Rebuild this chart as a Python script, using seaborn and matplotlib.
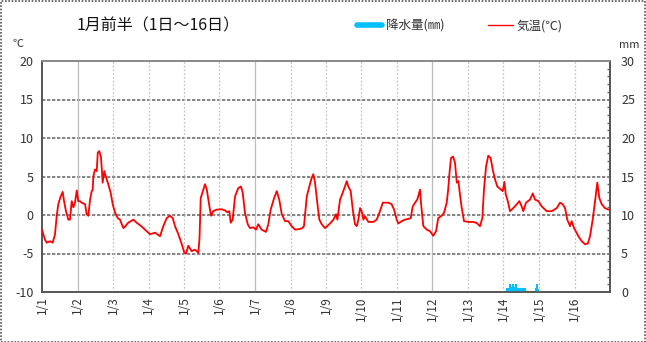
import matplotlib
matplotlib.use("Agg")
import matplotlib.pyplot as plt
import seaborn as sns
import pandas as pd
from matplotlib.lines import Line2D
from matplotlib.patches import Rectangle

# ---------------- data ----------------
title = "1月前半（1日～16日）"
day_labels = ["1/1", "1/2", "1/3", "1/4", "1/5", "1/6", "1/7", "1/8",
              "1/9", "1/10", "1/11", "1/12", "1/13", "1/14", "1/15", "1/16"]

# hours since 1/1 00:00 and air temperature (°C)
temp_hours = [0, 2.0, 3.2, 5.4, 7.2, 8.8, 9.9, 11.0, 12.6, 14.0, 14.9, 16.2, 17.8, 18.9,
              20.1, 21.2, 22.3, 23.5, 24.5, 25.7, 26.8, 27.9, 29.1, 30.2, 31.3, 32.5,
              33.6, 34.3, 34.7, 35.8, 37.0, 37.7, 38.7, 39.9, 40.6, 41.0, 42.1, 43.3,
              44.8, 46.4, 47.8, 49.4, 51.2, 52.7, 55.0, 56.1, 58.3, 61.7, 64.0, 67.4,
              70.8, 73.0, 76.4, 79.8, 82.0, 84.3, 86.5, 88.4, 89.9, 92.2, 94.5, 96.2,
              97.4, 98.9, 101.2, 103.4, 105.7, 106.5, 107.3, 109.1, 110.2, 111.4, 113.2,
              114.3, 115.8, 118.1, 121.5, 123.7, 125.3, 126.6, 127.6, 128.9, 130.5,
              132.7, 134.5, 135.7, 137.2, 139.1, 140.6, 142.9, 144.7, 146.2, 148.5,
              151.4, 153.0, 154.6, 156.9, 158.7, 160.4, 162.1, 164.3, 166.5, 168.8,
              171.1, 173.3, 175.6, 177.1, 179.0, 180.7, 182.3, 183.4, 184.6, 186.1,
              187.5, 189.1, 191.3, 192.5, 194.7, 197.0, 198.8, 199.7, 201.5, 203.3,
              204.8, 206.0, 207.1, 208.7, 210.1, 211.6, 212.8, 213.9, 215.0, 216.1,
              217.3, 218.4, 220.6, 224.0, 226.3, 228.5, 230.4, 231.9, 234.1, 236.4,
              238.0, 239.8, 240.9, 243.2, 245.4, 247.7, 249.3, 250.6, 252.2, 253.7,
              255.6, 256.2, 257.8, 260.1, 262.3, 264.5, 266.4, 267.9, 270.2, 271.8,
              273.6, 274.6, 275.5, 276.5, 277.9, 279.2, 280.4, 281.5, 282.6, 283.7,
              285.3, 288.2, 291.6, 293.9, 296.1, 297.7, 298.8, 300.2, 301.7, 303.3,
              304.7, 306.3, 307.8, 309.6, 311.5, 312.6, 313.5, 314.9, 316.4, 318.6,
              321.0, 322.7, 324.3, 325.4, 327.2, 329.9, 331.8, 333.3, 335.6, 337.9,
              341.2, 344.6, 348.0, 350.2, 352.0, 353.6, 355.1, 357.0, 358.1, 359.7,
              362.6, 364.9, 367.1, 369.0, 370.5, 372.3, 373.9, 375.4, 376.8, 378.4,
              380.6, 382.9, 384.0]
temp_values = [-1.9, -3.2, -3.6, -3.4, -3.6, -2.5, -0.2, 1.4, 2.4, 3.0, 1.8, 0.5, -0.6, -0.6,
               1.8, 1.0, 1.6, 3.2, 1.8, 1.8, 1.6, 1.5, 1.4, 0.1, -0.1, 2.0,
               3.1, 3.3, 5.0, 5.9, 5.7, 8.1, 8.3, 7.5, 5.5, 4.2, 5.7, 4.9,
               4.0, 2.9, 1.4, 0.3, -0.4, -0.6, -1.7, -1.5, -1.0, -0.6, -1.0, -1.5,
               -2.1, -2.5, -2.3, -2.75, -1.45, -0.4, -0.1, -0.4, -1.45, -2.5, -3.8, -4.9,
               -5.0, -4.0, -4.7, -4.5, -4.9, -3.0, 2.2, 3.3, 4.0, 3.3, 1.1,
               -0.1, 0.5, 0.7, 0.75, 0.6, 0.35, 0.5, -1.0, -0.6, 2.4,
               3.5, 3.7, 2.9, 0.3, -1.2, -1.7, -1.6, -1.9, -1.2, -1.9,
               -2.2, -1.2, 0.7, 2.2, 3.1, 2.0, 0.1, -0.8, -0.8, -1.45,
               -1.9, -1.85, -1.75, -1.45, 2.4, 3.7, 4.8, 5.3, 4.2, 1.6,
               -0.6, -1.2, -1.7, -1.5, -1.1, -0.6, 0.1, -0.6, 2.0, 2.9,
               3.7, 4.4, 3.7, 3.1, 0.7, -1.2, -1.45, -0.6, 0.9, 0.5,
               -0.6, -0.15, -0.9, -0.9, -0.6, 0.5, 1.6, 1.6, 1.6, 1.4,
               0.7, -0.6, -1.1, -0.8, -0.6, -0.5, -0.4, 1.1, 1.6, 2.0,
               3.3, 1.6, -1.45, -1.9, -2.1, -2.7, -2.1, -0.4, -0.1, 0.3,
               1.6, 3.3, 5.5, 7.4, 7.6, 6.8, 4.2, 4.4, 2.6, 1.0,
               -0.8, -0.9, -0.9, -1.05, -1.45, -0.4, 3.3, 6.3, 7.7, 7.4,
               5.9, 4.6, 3.7, 3.4, 3.1, 4.3, 2.7, 1.8, 0.5, 0.9,
               1.4, 1.8, 1.1, 0.5, 1.6, 2.0, 2.8, 2.0, 1.8, 1.1,
               0.5, 0.5, 0.9, 1.6, 1.4, 0.9, -0.6, -1.45, -0.8, -1.7,
               -2.75, -3.4, -3.8, -3.7, -2.75, -0.6, 1.8, 4.2, 2.2, 1.4,
               0.9, 0.7, 0.7]

# precipitation (mm) per hour
rain_hours = [314, 315, 316, 317, 318, 319, 320, 321, 322, 323, 324, 325, 326,
              333, 334, 335]
rain_values = [0.5, 0.5, 1.0, 0.7, 1.0, 0.7, 1.0, 0.5, 0.5, 0.5, 0.5, 0.5, 0.5,
               0.5, 1.0, 0.4]

# ---------------- figure ----------------
sns.set_theme(style="white")
plt.rcParams["font.family"] = ["Noto Sans CJK JP", "DejaVu Sans"]

W, H = 646, 342
fig = plt.figure(figsize=(W / 100, H / 100), dpi=100)
ax = fig.add_axes([42 / W, 1 - 292 / H, (610 - 42) / W, (292 - 61) / H])
ax2 = ax.twinx()

df_t = pd.DataFrame({"hour": temp_hours, "temp": temp_values})
df_r = pd.DataFrame({"hour": rain_hours, "rain": rain_values})

ax2.bar(df_r["hour"], df_r["rain"], width=1.0, color="#00C0FF", align="edge",
        linewidth=0, zorder=3)
sns.lineplot(data=df_t, x="hour", y="temp", ax=ax, color="#FF0000", linewidth=1.3, zorder=5)

ax.set_zorder(ax2.get_zorder() + 1)
ax.patch.set_visible(False)

ax.set_xlim(0, 16 * 24)
ax.set_ylim(-10, 20)
ax2.set_ylim(0, 30)

tick_pos = [i * 24 for i in range(len(day_labels))]
ax.set_xticks(tick_pos)
ax.set_xticklabels(day_labels, rotation=90, fontsize=8.5, color="#333333")
ax.set_yticks(range(-10, 21, 5))
ax.set_yticklabels([str(v) for v in range(-10, 21, 5)], fontsize=9, color="#333333")
ax2.set_yticks(range(0, 31, 5))
ax2.set_yticklabels([str(v) for v in range(0, 31, 5)], fontsize=9, color="#333333")
ax2.set_yticks(range(0, 31, 1), minor=True)
ax2.tick_params(axis="y", which="minor", direction="in", length=2, color="#666666")
ax.tick_params(axis="x", length=0, pad=3)
ax.tick_params(axis="y", length=0, pad=6)
ax2.tick_params(axis="y", which="major", length=0, pad=8)
ax.set_xlabel("")
ax.set_ylabel("")

# grid
for v in range(-5, 20, 5):
    ax.axhline(v, color="#707070", lw=1.2, ls=(0, (2, 1)), zorder=1)
for i, p in enumerate(tick_pos[1:], start=1):
    if i % 5 == 1:
        ax.axvline(p, color="#bdbdbd", lw=0.9, ls="-", zorder=1)
    else:
        ax.axvline(p, color="#c4c4c4", lw=0.9, ls=(0, (1.5, 1.5)), zorder=1)

for a in (ax, ax2):
    for s in ("left", "right", "bottom"):
        a.spines[s].set_color("#555555")
        a.spines[s].set_linewidth(1.2)
    a.spines["top"].set_color("#8a8a8a")
    a.spines["top"].set_linestyle((0, (1, 1)))

# texts
fig.text(77 / W, 1 - 26 / H, title, fontsize=11.5, va="center", ha="left", color="#111111")
fig.text(18 / W, 1 - 44 / H, "℃", fontsize=8, va="center", ha="center", color="#333333")
fig.text(629 / W, 1 - 45 / H, "mm", fontsize=8, va="center", ha="center", color="#333333")

handles = [Line2D([], [], color="#00C0FF", lw=4), Line2D([], [], color="#FF0000", lw=1)]
fig.legend(handles, ["降水量(㎜)", "気温(℃)"], loc="center left",
           bbox_to_anchor=(346 / W, 1 - 26 / H), ncol=2, frameon=False,
           fontsize=9, handlelength=2.0, handletextpad=0.3, columnspacing=3.5,
           labelcolor="#333333")

fig.patches.append(Rectangle((0.001, 0.001), 0.998, 0.997, transform=fig.transFigure,
                             fill=False, edgecolor="#555555", lw=1.2, ls=(0, (1, 1))))

fig.savefig("out.png", dpi=100)
